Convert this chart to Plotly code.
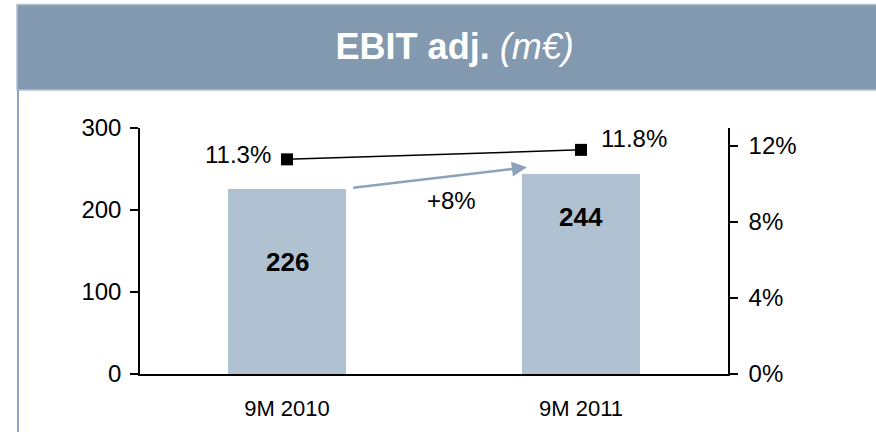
import plotly.graph_objects as go

# data
periods = ["9M 2010", "9M 2011"]
ebit_adj = [226, 244]          # m€
ebit_margin = [11.3, 11.8]     # %
left_ticks = [0, 100, 200, 300]
right_ticks = [0, 4, 8, 12]
right_labels = ["0%", "4%", "8%", "12%"]

W, H = 876, 432
FONT = "Liberation Sans, Arial, sans-serif"
BAR_COLOR = "rgb(176,194,209)"
BANNER = "rgb(131,153,176)"
BANNER_EDGE = "rgb(178,193,208)"
ARROW = "rgb(139,162,184)"

growth = round((ebit_adj[1] / ebit_adj[0] - 1) * 100)

fig = go.Figure()
fig.add_trace(go.Bar(
    x=periods, y=ebit_adj, width=0.4,
    marker=dict(color=BAR_COLOR, line=dict(width=0)),
    showlegend=False, hoverinfo="skip"))
fig.add_trace(go.Scatter(
    x=periods, y=ebit_margin, yaxis="y2",
    mode="lines+markers",
    line=dict(color="black", width=1.5),
    marker=dict(symbol="square", size=12, color="black"),
    showlegend=False, hoverinfo="skip"))

"""$$$$$$$$$$$$$$$ FORMATTING $$$$$$$$$$$$$$$$"""
xdom = [140 / W, 728 / W]
ydom = [(H - 374) / H, (H - 128) / H]
tick_style = dict(ticklen=8, tickwidth=1.5, tickcolor="black",
                  showgrid=False, zeroline=False, automargin=False)

fig.update_layout(
    template="none",
    width=W, height=H, autosize=False,
    margin=dict(l=0, r=0, t=0, b=0, pad=0, autoexpand=False),
    paper_bgcolor="white", plot_bgcolor="white",
    font=dict(family=FONT, color="black", size=22),
    bargap=0,
    title=dict(
        text="<b>EBIT adj.</b> <i>(m€)</i>",
        font=dict(family=FONT, size=36, color="white"),
        x=0.519, xanchor="center", xref="paper",
        y=1 - 46 / H, yanchor="middle", yref="container"),
    xaxis=dict(
        domain=xdom, type="category", range=[-0.5, 1.5],
        showline=True, linecolor="black", linewidth=1.5,
        ticks="", showgrid=False, zeroline=False, automargin=False,
        tickfont=dict(size=22), ticklabelstandoff=14),
    yaxis=dict(
        domain=ydom, range=[0, 300], tickvals=left_ticks,
        showline=True, linecolor="black", linewidth=1.5,
        ticks="outside", tickfont=dict(size=24), ticklabelstandoff=4,
        **tick_style),
    yaxis2=dict(
        domain=ydom, overlaying="y", side="right", anchor="x",
        range=[0, 12.95], tickvals=right_ticks, ticktext=right_labels,
        showline=True, linecolor="black", linewidth=1.5,
        ticks="outside", tickfont=dict(size=24), ticklabelstandoff=6,
        **tick_style),
    # inner halves of the crossing tick marks
    yaxis3=dict(
        domain=ydom, overlaying="y", side="left", anchor="x",
        range=[0, 300], tickvals=left_ticks, showticklabels=False,
        ticks="inside", showline=False, **tick_style),
    yaxis4=dict(
        domain=ydom, overlaying="y", side="right", anchor="x",
        range=[0, 12.95], tickvals=right_ticks, showticklabels=False,
        ticks="inside", showline=False, **tick_style),
)

# header banner and panel frame
fig.add_shape(type="rect", xref="paper", yref="paper",
              x0=17 / W, x1=1 + 2 / W, y0=1 - 90 / H, y1=1 - 4.5 / H,
              fillcolor=BANNER, line=dict(color=BANNER_EDGE, width=1.5),
              layer="below")
fig.add_shape(type="line", xref="paper", yref="paper",
              x0=18 / W, x1=18 / W, y0=0, y1=1 - 90 / H,
              line=dict(color="rgb(142,166,191)", width=2))

# bar value labels
bar_label_shift = [-73, -43]
for i, p in enumerate(periods):
    fig.add_annotation(x=p, y=ebit_adj[i], xref="x", yref="y",
                       yshift=bar_label_shift[i], showarrow=False,
                       text=f"<b>{ebit_adj[i]}</b>",
                       font=dict(size=26, color="black"))

# margin labels
fig.add_annotation(x=periods[0], y=ebit_margin[0], xref="x", yref="y2",
                   xanchor="right", xshift=-14, yshift=5, showarrow=False,
                   text=f"{ebit_margin[0]:.1f}%", font=dict(size=24))
fig.add_annotation(x=periods[1], y=ebit_margin[1], xref="x", yref="y2",
                   xanchor="left", xshift=18, yshift=11, showarrow=False,
                   text=f"{ebit_margin[1]:.1f}%", font=dict(size=24))

# growth arrow
fig.add_annotation(x=0.816, y=252, xref="x", yref="y",
                   ax=0.22, ay=227, axref="x", ayref="y",
                   text="", showarrow=True, arrowhead=2, arrowsize=1.2,
                   arrowwidth=2.5, arrowcolor=ARROW, standoff=0)
fig.add_annotation(x=0.56, y=212, xref="x", yref="y", showarrow=False,
                   text=f"+{growth}%", font=dict(size=24))

page_css = ("document.documentElement.style.margin='0';"
            "document.documentElement.style.overflow='hidden';"
            "document.body.style.margin='0';"
            "document.body.style.overflow='hidden';")
fig.write_html("out.html",
               config=dict(displayModeBar=False, responsive=False),
               post_script=page_css)
